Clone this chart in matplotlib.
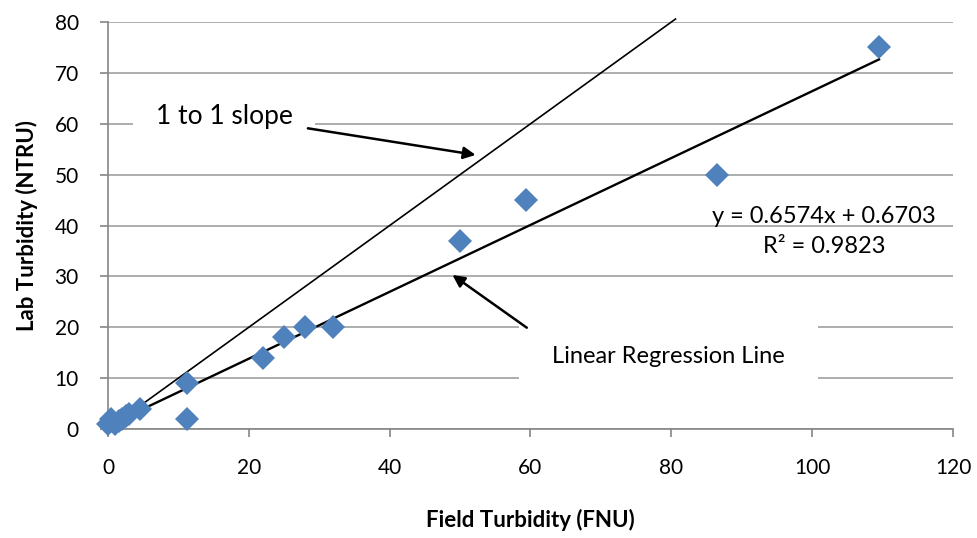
import numpy as np
import matplotlib.pyplot as plt

plt.rcParams['font.family'] = ['Lato', 'DejaVu Sans']

# field vs lab turbidity
field = [0.0, 0.5, 1.0, 1.5, 2.0, 2.5, 3.0, 4.5, 11.2, 11.2, 22.0, 25.0, 28.0, 32.0, 50.0, 59.3, 86.5, 109.5]
lab = [1.0, 2.0, 1.0, 1.5, 2.0, 2.5, 3.0, 4.0, 9.0, 2.0, 14.0, 18.0, 20.0, 20.0, 37.0, 45.0, 50.0, 75.0]
slope, intercept = 0.6574, 0.6703
eq_text = "y = 0.6574x + 0.6703"
r2_text = "R² = 0.9823"

fig = plt.figure(figsize=(9.77, 5.38), dpi=100)
ax = fig.add_axes([0.1105, 0.2026, 0.8649, 0.7564])

ax.set_xlim(0, 120)
ax.set_ylim(0, 80)
ax.set_xticks(np.arange(0, 121, 20))
ax.set_yticks(np.arange(0, 81, 10))
ax.yaxis.grid(True, color='#a0a0a0', lw=1.2)
ax.set_axisbelow(True)
for s in ['top', 'right']:
    ax.spines[s].set_visible(False)
for s in ['left', 'bottom']:
    ax.spines[s].set_color('#868686')
    ax.spines[s].set_linewidth(1.2)
ax.tick_params(axis='both', colors='#868686', length=6, width=1.2, labelsize=15, labelcolor='black')
ax.tick_params(axis='x', pad=15)
ax.tick_params(axis='y', pad=15)

# 1 to 1 line and regression line
x1 = np.array([0, 80.6])
ax.plot(x1, x1, color='black', lw=1.2, clip_on=False)
xr = np.array([0, max(field)])
ax.plot(xr, slope * xr + intercept, color='black', lw=1.7)

ax.plot(field, lab, 'D', color='#4f81bd', markersize=12, markeredgewidth=0, clip_on=False, zorder=3)

ax.text(16.5, 61.5, "1 to 1 slope", fontsize=19, ha='center', va='center',
        bbox=dict(facecolor='white', edgecolor='none', boxstyle='square,pad=0.85'))
ax.annotate("", xy=(52.6, 53.8), xytext=(28.0, 59.2),
            arrowprops=dict(arrowstyle='-|>', color='black', lw=1.8, mutation_scale=18))

ax.text(79.6, 14.3, "Linear Regression Line", fontsize=17, ha='center', va='center',
        bbox=dict(facecolor='white', edgecolor='none', boxstyle='square,pad=1.4'))
ax.annotate("", xy=(48.6, 30.6), xytext=(59.8, 19.6),
            arrowprops=dict(arrowstyle='-|>', color='black', lw=1.8, mutation_scale=18))

ax.text(101.7, 41.8, eq_text, fontsize=17, ha='center', va='center')
ax.text(101.7, 35.8, r2_text, fontsize=17, ha='center', va='center')

ax.set_xlabel("Field Turbidity (FNU)", fontsize=16, fontweight='bold', labelpad=22)
ax.set_ylabel("Lab Turbidity (NTRU)", fontsize=16, fontweight='bold', labelpad=12)

fig.savefig("out.png", dpi=100)
